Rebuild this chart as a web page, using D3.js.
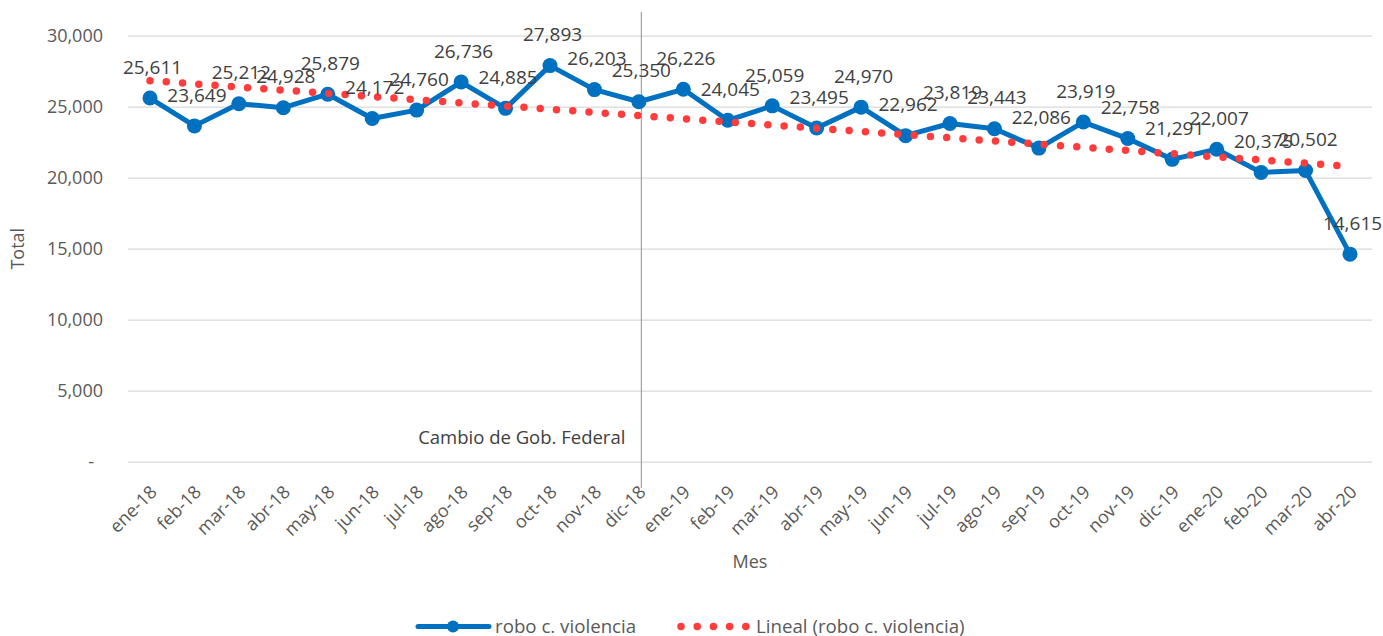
<!DOCTYPE html>
<html>
<head>
<meta charset="utf-8">
<script src="https://cdn.jsdelivr.net/npm/d3@7"></script>
<style>
  html, body { margin: 0; padding: 0; background: #fff; }
  svg { display: block; font-family: "Open Sans", sans-serif; }
</style>
</head>
<body>
<svg id="chart" width="1383" height="636"></svg>
<script>
// Monthly totals of "robo c. violencia"
const months = ["ene-18","feb-18","mar-18","abr-18","may-18","jun-18","jul-18","ago-18","sep-18","oct-18","nov-18","dic-18",
                "ene-19","feb-19","mar-19","abr-19","may-19","jun-19","jul-19","ago-19","sep-19","oct-19","nov-19","dic-19",
                "ene-20","feb-20","mar-20","abr-20"];
const totals = [25611,23649,25212,24928,25879,24172,24760,26736,24885,27893,26203,25350,
                26226,24045,25059,23495,24970,22962,23819,23443,22086,23919,22758,21291,
                22007,20375,20502,14615];
const yTicks = [0,5000,10000,15000,20000,25000,30000];
const markerMonth = "dic-18";
const markerText = "Cambio de Gob. Federal";
const seriesName = "robo c. violencia";
const trendName = "Lineal (robo c. violencia)";

const svg = d3.select("#chart");
const plotLeft = 128, plotRight = 1372, plotTop = 35.7, plotBottom = 461.7;

const x = d3.scalePoint().domain(months).range([150, 1350]);
const y = d3.scaleLinear().domain([0, 30000]).range([plotBottom, plotTop]);

const fmt = d3.format(",");
const textColor = "#595959";
const blue = "#0070c0";
const red = "#ff3b3b";

// Horizontal gridlines and value axis
const yAxis = svg.append("g")
  .attr("transform", `translate(${plotLeft},0)`)
  .call(d3.axisLeft(y).tickValues(yTicks).tickSize(-(plotRight - plotLeft)).tickPadding(25)
    .tickFormat(d => d === 0 ? "-" : fmt(d)));
yAxis.select(".domain").remove();
yAxis.selectAll(".tick line").attr("stroke", "#d9d9d9").attr("stroke-width", 1.3);
yAxis.selectAll(".tick text")
  .attr("fill", textColor).style("font-size", "18px").style("font-family", "Open Sans")
  .attr("dx", d => d === 0 ? -9 : 0);

// Category axis with rotated month labels
const xAxis = svg.append("g")
  .attr("transform", `translate(0,${plotBottom})`)
  .call(d3.axisBottom(x).tickSize(0).tickPadding(0));
xAxis.select(".domain").remove();
xAxis.selectAll(".tick text")
  .attr("fill", textColor).style("font-size", "18px").style("font-family", "Open Sans")
  .attr("text-anchor", "end")
  .attr("x", 0).attr("y", 0).attr("dy", "0.35em")
  .attr("transform", "translate(3,27) rotate(-45)");

// Axis titles
svg.append("text")
  .attr("x", 750).attr("y", 568).attr("text-anchor", "middle")
  .attr("fill", textColor).style("font-size", "18px").text("Mes");
svg.append("text")
  .attr("transform", `translate(24,${(plotTop + plotBottom) / 2}) rotate(-90)`)
  .attr("text-anchor", "middle")
  .attr("fill", textColor).style("font-size", "18px").text("Total");

// Vertical reference line and its caption
const vx = x(markerMonth) + 2.5;
svg.append("line")
  .attr("x1", vx).attr("x2", vx).attr("y1", 12).attr("y2", 488)
  .attr("stroke", "#a6a6a6").attr("stroke-width", 1.3);
svg.append("text")
  .attr("x", vx - 16).attr("y", 444).attr("text-anchor", "end")
  .attr("fill", "#404040").style("font-size", "18.5px").text(markerText);

// Series line with markers
const data = months.map((m, i) => ({ m, v: totals[i] }));
svg.append("path")
  .datum(data)
  .attr("fill", "none").attr("stroke", blue).attr("stroke-width", 5)
  .attr("stroke-linejoin", "round")
  .attr("d", d3.line().x(d => x(d.m)).y(d => y(d.v)));
svg.append("g").selectAll("circle").data(data).join("circle")
  .attr("cx", d => x(d.m)).attr("cy", d => y(d.v)).attr("r", 7.5)
  .attr("fill", blue);

// Linear trendline (least squares over month index)
const n = totals.length;
const idx = d3.range(n);
const mx = d3.mean(idx), my = d3.mean(totals);
const slope = d3.sum(idx, i => (i - mx) * (totals[i] - my)) / d3.sum(idx, i => (i - mx) ** 2);
const intercept = my - slope * mx;
const trend = [0, n - 1].map(i => ({ m: months[i], v: intercept + slope * i }));
svg.append("path")
  .datum(trend)
  .attr("fill", "none").attr("stroke", red).attr("stroke-width", 7.5)
  .attr("stroke-linecap", "round").attr("stroke-dasharray", "0 16.3")
  .attr("d", d3.line().x(d => x(d.m)).y(d => y(d.v)));

// Data labels
svg.append("g").selectAll("text").data(data).join("text")
  .attr("x", d => x(d.m) + 2.5).attr("y", d => y(d.v) - 31)
  .attr("dy", "0.35em").attr("text-anchor", "middle")
  .attr("fill", "#404040").style("font-size", "19px")
  .text(d => fmt(d.v));

// Legend
const ly = 626.5;
const lg = svg.append("g");
lg.append("line").attr("x1", 418).attr("x2", 489).attr("y1", ly).attr("y2", ly)
  .attr("stroke", blue).attr("stroke-width", 5).attr("stroke-linecap", "round");
lg.append("circle").attr("cx", 453).attr("cy", ly).attr("r", 6).attr("fill", blue);
lg.append("text").attr("x", 495).attr("y", ly).attr("dy", "0.35em")
  .attr("fill", textColor).style("font-size", "18.7px").text(seriesName);
lg.append("line").attr("x1", 681).attr("x2", 746).attr("y1", ly).attr("y2", ly)
  .attr("stroke", red).attr("stroke-width", 7.5).attr("stroke-linecap", "round")
  .attr("stroke-dasharray", "0 16.2");
lg.append("text").attr("x", 756).attr("y", ly).attr("dy", "0.35em")
  .attr("fill", textColor).style("font-size", "18.7px").text(trendName);
</script>
</body>
</html>
